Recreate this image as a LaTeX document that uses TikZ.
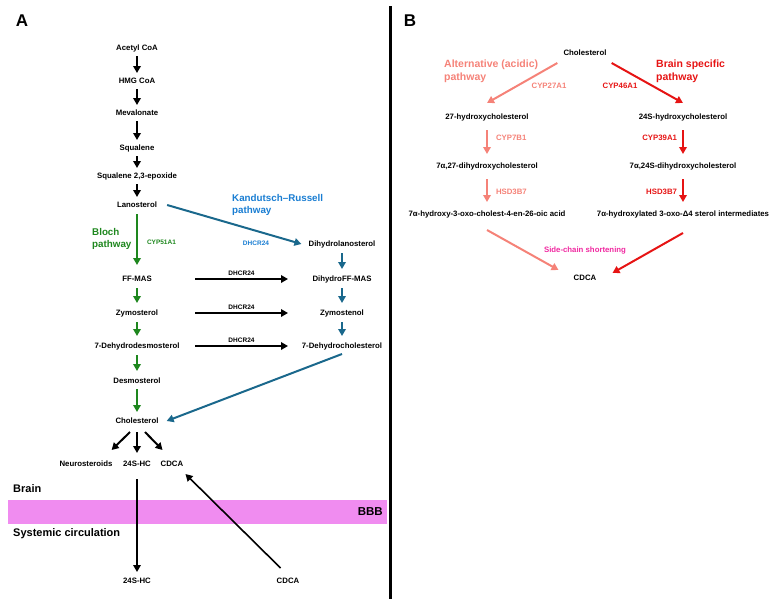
\documentclass[tikz,border=0pt]{standalone}
\usepackage{fontspec}
\setmainfont{Liberation Sans}
\usepackage{xcolor}
\usetikzlibrary{arrows.meta,positioning}
\definecolor{blochgreen}{RGB}{30,135,30}
\definecolor{krteal}{RGB}{26,104,140}
\definecolor{krblue}{RGB}{25,125,210}
\definecolor{acidic}{RGB}{245,130,120}
\definecolor{brainred}{RGB}{230,20,20}
\definecolor{sidepink}{RGB}{240,40,160}
\definecolor{bbbfill}{RGB}{240,140,240}

\begin{document}
\begin{tikzpicture}[x=1pt,y=-1pt,
  cmp/.style={font=\fontsize{7.8}{9}\selectfont\bfseries, inner sep=1pt, text height=5.6pt, text depth=0pt},
  enz/.style={font=\fontsize{6.5}{8}\selectfont\bfseries, inner sep=1pt, text height=4.7pt, text depth=0pt},
  enzb/.style={cmp},
  pathlbl/.style={font=\fontsize{9.8}{12}\selectfont\bfseries, align=left, inner sep=0pt, anchor=west},
  region/.style={font=\fontsize{11}{13}\selectfont\bfseries, inner sep=0pt},
  panel/.style={font=\fontsize{17}{20}\selectfont\bfseries, inner sep=0pt},
  arr/.style={line width=2pt, -{Triangle[length=7pt,width=7.5pt]}},
  blk/.style={arr, shorten <=4pt, shorten >=4pt},
  grn/.style={arr, blochgreen, shorten <=5pt, shorten >=6pt},
  blu/.style={arr, krteal, shorten <=5pt, shorten >=6pt},
  lgt/.style={arr, acidic, shorten <=9pt, shorten >=8pt},
  rd/.style={arr, brainred, shorten <=9pt, shorten >=8pt}
]
\useasboundingbox (0,0) rectangle (782,605);
\fill[bbbfill] (8,500) rectangle (387,524);
\draw[line width=3pt] (390,6) -- (390,599);

\node[panel] (pa) at (22,21) {A};
\node[panel] (pb) at (410,21) {B};

\node[cmp] (acetyl) at (137,48) {Acetyl CoA};
\node[cmp] (hmg) at (137,81) {HMG CoA};
\node[cmp] (meva) at (137,113) {Mevalonate};
\node[cmp] (squal) at (137,148) {Squalene};
\node[cmp] (epox) at (137,176) {Squalene 2,3-epoxide};
\node[cmp] (lano) at (137,205) {Lanosterol};
\node[cmp] (ffmas) at (137,279) {FF-MAS};
\node[cmp] (zymo) at (137,313) {Zymosterol};
\node[cmp] (dhdes) at (137,346) {7-Dehydrodesmosterol};
\node[cmp] (desmo) at (137,381) {Desmosterol};
\node[cmp] (chol) at (137,421) {Cholesterol};
\node[cmp] (neuro) at (86,464) {Neurosteroids};
\node[cmp] (hca) at (137,464) {24S-HC};
\node[cmp] (cdcaa) at (172,464) {CDCA};
\node[cmp] (hcb) at (137,581) {24S-HC};
\node[cmp] (cdcab) at (288,581) {CDCA};

\node[cmp] (dlano) at (342,244) {Dihydrolanosterol};
\node[cmp] (dffmas) at (342,279) {DihydroFF-MAS};
\node[cmp] (zymen) at (342,313) {Zymostenol};
\node[cmp] (dhchol) at (342,346) {7-Dehydrocholesterol};

\node[pathlbl, blochgreen] (bloch) at (92,239) {Bloch\\pathway};
\node[pathlbl, krblue] (kr) at (232,205) {Kandutsch–Russell\\pathway};
\node[enz, krblue] (krenz) at (256,243) {DHCR24};

\node[region, anchor=west] (brain) at (13,489) {Brain};
\node[region, anchor=west] (sys) at (13,534) {Systemic circulation};
\node[region, anchor=east, font=\fontsize{11.5}{13}\selectfont\bfseries] (bbb) at (383,512) {BBB};

\draw[blk] (acetyl) -- (hmg);
\draw[blk] (hmg) -- (meva);
\draw[blk] (meva) -- (squal);
\draw[blk] (squal) -- (epox);
\draw[blk] (epox) -- (lano);
\draw[grn, shorten >=10pt] (lano) -- (ffmas) node[midway, right=8pt, enz, blochgreen] {CYP51A1};
\draw[grn] (ffmas) -- (zymo);
\draw[grn] (zymo) -- (dhdes);
\draw[grn] (dhdes) -- (desmo);
\draw[grn, shorten <=4pt, shorten >=5pt] (desmo) -- (chol);
\draw[blu] (dlano) -- (dffmas);
\draw[blu] (dffmas) -- (zymen);
\draw[blu] (zymen) -- (dhchol);
\draw[arr, krteal] ([xshift=9pt]lano.east) -- ([xshift=-6pt]dlano.west);
\draw[arr, krteal] ([yshift=-4pt]dhchol.south) -- ([xshift=7pt]chol.east);

\coordinate (hl) at (195,0);
\coordinate (hr) at (288,0);
\draw[arr] (ffmas -| hl) -- (dffmas -| hr) node[midway, above=2pt, enz] {DHCR24};
\draw[arr] (zymo -| hl) -- (zymen -| hr) node[midway, above=2pt, enz] {DHCR24};
\draw[arr] (dhdes -| hl) -- (dhchol -| hr) node[midway, above=2pt, enz] {DHCR24};

\draw[arr] ([xshift=-7pt,yshift=-7pt]chol.south) -- ([xshift=-2pt,yshift=10pt]neuro.north east);
\draw[arr, shorten <=7pt, shorten >=7pt] (chol.south) -- (hca.north);
\draw[arr] ([xshift=8pt,yshift=-7pt]chol.south) -- ([xshift=3pt,yshift=10pt]cdcaa.north west);
\draw[arr, line width=1.6pt, shorten <=11pt, shorten >=5pt] (hca.south) -- (hcb.north);
\draw[arr, line width=1.6pt] ([xshift=5pt,yshift=9pt]cdcab.north west) -- ([xshift=1pt,yshift=-6pt]cdcaa.south east);

\node[cmp] (cholb) at (585,53) {Cholesterol};
\node[cmp] (oh27) at (487,117) {27-hydroxycholesterol};
\node[cmp] (oh24) at (683,117) {24S-hydroxycholesterol};
\node[cmp] (di27) at (487,166) {7α,27-dihydroxycholesterol};
\node[cmp] (di24) at (683,166) {7α,24S-dihydroxycholesterol};
\node[cmp] (acid) at (487,214) {7α-hydroxy-3-oxo-cholest-4-en-26-oic acid};
\node[cmp] (inter) at (683,214) {7α-hydroxylated 3-oxo-Δ4 sterol intermediates};
\node[cmp] (cdcaB) at (585,278) {CDCA};

\node[pathlbl, acidic, font=\fontsize{10.5}{13}\selectfont\bfseries] (alt) at (444,71.5) {Alternative (acidic)\\pathway};
\node[pathlbl, brainred, font=\fontsize{10.5}{13}\selectfont\bfseries] (brsp) at (656,71.5) {Brain specific\\pathway};
\node[enzb, acidic] (cyp27) at (549,86) {CYP27A1};
\node[enzb, brainred] (cyp46) at (620,86) {CYP46A1};
\node[enzb, sidepink] (side) at (585,250) {Side-chain shortening};

\draw[arr, acidic] ([xshift=-5pt,yshift=-6pt]cholb.south west) -- ([yshift=10pt]oh27.north);
\draw[arr, brainred] ([xshift=4pt,yshift=-6pt]cholb.south east) -- ([yshift=10pt]oh24.north);
\draw[lgt] (oh27.south) -- (oh27.south |- di27.north) node[pos=0.4, right=7pt, enzb, acidic] {CYP7B1};
\draw[rd] (oh24.south) -- (oh24.south |- di24.north) node[pos=0.4, left=4pt, enzb, brainred] {CYP39A1};
\draw[lgt] (di27.south) -- (di27.south |- acid.north) node[pos=0.55, right=7pt, enzb, acidic] {HSD3B7};
\draw[rd] (di24.south) -- (di24.south |- inter.north) node[pos=0.55, left=4pt, enzb, brainred] {HSD3B7};
\draw[arr, acidic] ([yshift=-12pt]acid.south) -- ([xshift=-14pt,yshift=4pt]cdcaB.north west);
\draw[arr, brainred] ([yshift=-15pt]inter.south) -- ([xshift=15pt,yshift=1pt]cdcaB.north east);
\end{tikzpicture}
\end{document}
